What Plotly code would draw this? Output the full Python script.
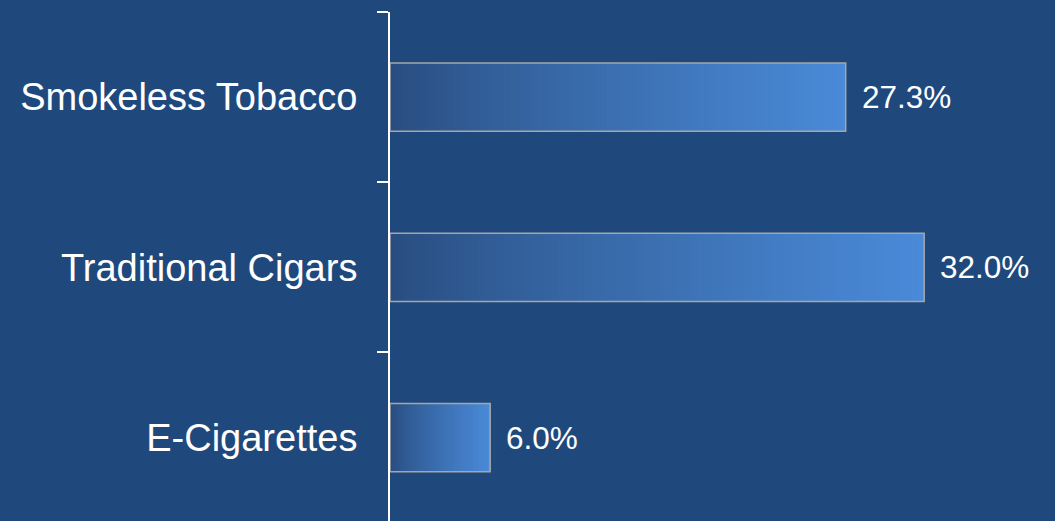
import plotly.graph_objects as go

# Youth tobacco product use, by product
categories = ["E-Cigarettes", "Traditional Cigars", "Smokeless Tobacco"]
values = [6.0, 32.0, 27.3]

BG = "#1F497D"
DARK = (40, 76, 126)
LIGHT = (74, 138, 216)
N_SEG = 80


def mix(t):
    t = t ** 0.8
    r, g, b = (round(a + (c - a) * t) for a, c in zip(DARK, LIGHT))
    return f"rgb({r},{g},{b})"


fig = go.Figure()

# horizontal gradient fill: each slice runs from its start to the bar end,
# later (lighter) slices painted over earlier ones so no seams show
for k in range(N_SEG):
    fig.add_trace(go.Bar(
        y=categories,
        x=[v * (1 - k / N_SEG) for v in values],
        base=[v * k / N_SEG for v in values],
        orientation="h",
        width=0.4,
        marker=dict(color=mix((k + 0.5) / N_SEG), line=dict(width=0)),
        hoverinfo="skip",
        showlegend=False,
    ))

# grey outline over the whole bar
fig.add_trace(go.Bar(
    y=categories,
    x=values,
    orientation="h",
    width=0.4,
    marker=dict(color="rgba(0,0,0,0)", line=dict(color="#A6A6A6", width=1.5)),
    hoverinfo="skip",
    showlegend=False,
))

for cat, v in zip(categories, values):
    fig.add_annotation(
        x=v, y=cat, text=f"{v:.1f}%", showarrow=False,
        xanchor="left", yanchor="middle", xshift=14,
        font=dict(family="Liberation Sans, Arial, sans-serif", size=31.5, color="white"),
    )

fig.update_layout(
    width=1055, height=521,
    margin=dict(l=390, r=0, t=12, b=0),
    paper_bgcolor=BG, plot_bgcolor=BG,
    barmode="overlay",
    xaxis=dict(visible=False, range=[0, 39.84], fixedrange=True),
    yaxis=dict(
        type="category",
        categoryorder="array", categoryarray=categories,
        range=[-0.49, 2.5],
        tickson="boundaries",
        ticks="outside", ticklen=11, tickwidth=2, tickcolor="white",
        showline=True, linecolor="white", linewidth=2,
        showgrid=False, zeroline=False,
        ticklabelstandoff=23,
        tickfont=dict(family="Liberation Sans, Arial, sans-serif", size=38, color="white"),
    ),
)

fig.write_html("out.html")
